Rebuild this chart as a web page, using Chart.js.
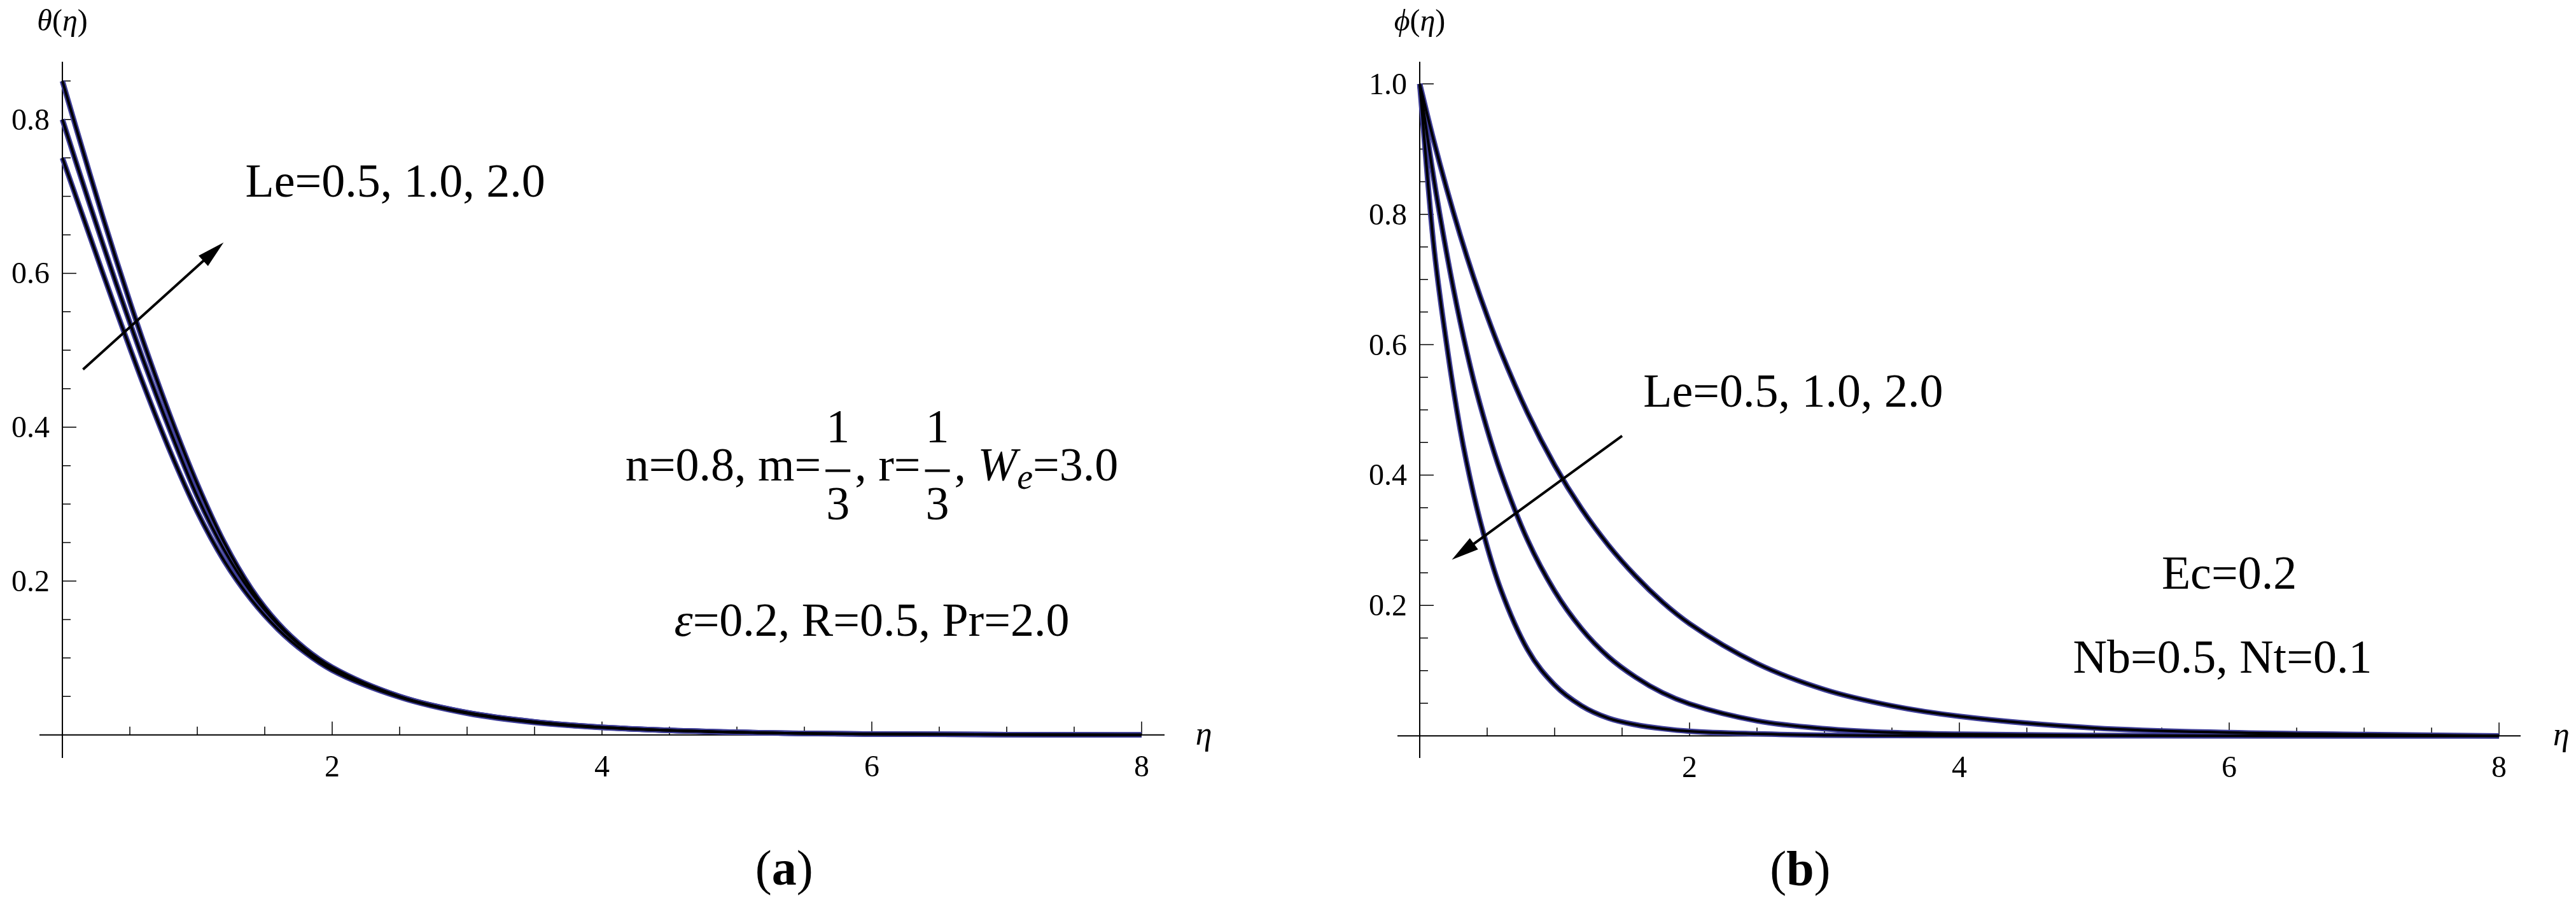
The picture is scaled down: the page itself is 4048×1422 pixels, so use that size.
<!DOCTYPE html>
<html>
<head>
<meta charset="utf-8">
<script src="https://cdn.jsdelivr.net/npm/chart.js@4.4.1/dist/chart.umd.min.js"></script>
<style>
  html, body { margin: 0; padding: 0; background: #fff; }
  #wrap { position: relative; width: 4048px; height: 1422px; }
  .panel { position: absolute; top: 0; width: 2024px; height: 1422px; }
</style>
</head>
<body>
<div id="wrap">
  <div class="panel" style="left:0"><canvas id="chartA" width="2024" height="1422"></canvas></div>
  <div class="panel" style="left:2024px"><canvas id="chartB" width="2024" height="1422"></canvas></div>
</div>
<script>
// eta grid shared by every curve
const eta = [0, 0.1, 0.2, 0.3, 0.4, 0.5, 0.6, 0.8, 1.0, 1.2, 1.4, 1.6, 1.8, 2.0, 2.5, 3.0, 3.5, 4.0, 5.0, 6.0, 7.0, 8.0];

// (a) theta(eta) for Le = 0.5, 1.0, 2.0
const thetaLe05 = [0.750, 0.700, 0.650, 0.600, 0.551, 0.503, 0.456, 0.368, 0.290, 0.226, 0.176, 0.137, 0.107, 0.084, 0.049, 0.028, 0.016, 0.0095, 0.0033, 0.0011, 0.0004, 0];
const thetaLe10 = [0.800, 0.745, 0.691, 0.638, 0.586, 0.536, 0.487, 0.395, 0.310, 0.240, 0.185, 0.143, 0.111, 0.087, 0.050, 0.029, 0.017, 0.010, 0.0035, 0.0012, 0.0004, 0];
const thetaLe20 = [0.850, 0.790, 0.731, 0.673, 0.617, 0.563, 0.511, 0.414, 0.326, 0.250, 0.190, 0.145, 0.112, 0.088, 0.050, 0.029, 0.017, 0.010, 0.0035, 0.0012, 0.0004, 0];

// (b) phi(eta) for Le = 0.5, 1.0, 2.0
const phiLe05 = [1, 0.916, 0.839, 0.768, 0.703, 0.644, 0.590, 0.495, 0.415, 0.348, 0.292, 0.245, 0.205, 0.172, 0.111, 0.071, 0.046, 0.030, 0.012, 0.005, 0.002, 0];
const phiLe10 = [1, 0.860, 0.740, 0.635, 0.545, 0.470, 0.405, 0.300, 0.222, 0.164, 0.121, 0.090, 0.066, 0.049, 0.023, 0.011, 0.005, 0.0025, 0.0006, 0.0001, 0, 0];
const phiLe20 = [1, 0.760, 0.600, 0.470, 0.370, 0.290, 0.225, 0.132, 0.078, 0.046, 0.027, 0.017, 0.011, 0.007, 0.003, 0.001, 0.0004, 0.0001, 0, 0, 0, 0];

// ticks
const xMajor = [2, 4, 6, 8];
const xMinor = [0.5, 1, 1.5, 2.5, 3, 3.5, 4.5, 5, 5.5, 6.5, 7, 7.5];
const thetaMajor = [0.2, 0.4, 0.6, 0.8];
const thetaMinor = [0.05, 0.1, 0.15, 0.25, 0.3, 0.35, 0.45, 0.5, 0.55, 0.65, 0.7, 0.75, 0.85];
const phiMajor = [0.2, 0.4, 0.6, 0.8, 1.0];
const phiMinor = [0.05, 0.1, 0.15, 0.25, 0.3, 0.35, 0.45, 0.5, 0.55, 0.65, 0.7, 0.75, 0.85, 0.9, 0.95];

const SERIF = '"Liberation Serif", "Times New Roman", Times, "DejaVu Serif", serif';
const fnt = (size, style) => (style ? style + ' ' : '') + size + 'px ' + SERIF;
const BLUE = '#3d3d96';

function lineSets(series) {
  const out = [];
  series.forEach(s => {
    const pts = eta.map((e, i) => ({ x: e, y: s[i] }));
    const common = { data: pts, pointRadius: 0, fill: false, cubicInterpolationMode: 'monotone', borderCapStyle: 'butt', borderJoinStyle: 'round' };
    out.push(Object.assign({}, common, { borderColor: BLUE, borderWidth: 8.5, order: 1 }));
    out.push(Object.assign({}, common, { borderColor: '#000', borderWidth: 4, order: 0 }));
  });
  return out;
}

// draw a row of text pieces (plain, italic, subscript, stacked fraction)
function runsWidth(ctx, runs) {
  let w = 0;
  runs.forEach(r => {
    ctx.font = r.font;
    if (r.frac) w += Math.max(ctx.measureText(r.frac[0]).width, ctx.measureText(r.frac[1]).width) + 2 * r.pad;
    else w += ctx.measureText(r.t).width;
  });
  return w;
}
function drawRuns(ctx, runs, x, y, align) {
  const w = runsWidth(ctx, runs);
  let cx = align === 'center' ? x - w / 2 : x;
  ctx.textAlign = 'left';
  ctx.textBaseline = 'alphabetic';
  ctx.fillStyle = '#000';
  runs.forEach(r => {
    ctx.font = r.font;
    if (r.frac) {
      const nw = ctx.measureText(r.frac[0]).width, dw = ctx.measureText(r.frac[1]).width;
      const inner = Math.max(nw, dw);
      ctx.fillText(r.frac[0], cx + r.pad + (inner - nw) / 2, y - 60);
      ctx.fillText(r.frac[1], cx + r.pad + (inner - dw) / 2, y + 61);
      ctx.fillRect(cx + r.pad - 1, y - 17, inner + 2, 4);
      cx += inner + 2 * r.pad;
    } else {
      ctx.fillText(r.t, cx, y + (r.dy || 0));
      cx += ctx.measureText(r.t).width;
    }
  });
}

function arrow(ctx, x1, y1, x2, y2) {
  const ang = Math.atan2(y2 - y1, x2 - x1);
  const hl = 43, hw = 11;
  const bx = x2 - hl * Math.cos(ang), by = y2 - hl * Math.sin(ang);
  ctx.strokeStyle = '#000';
  ctx.lineWidth = 4;
  ctx.beginPath(); ctx.moveTo(x1, y1); ctx.lineTo(bx + 4 * Math.cos(ang), by + 4 * Math.sin(ang)); ctx.stroke();
  ctx.fillStyle = '#000';
  ctx.beginPath();
  ctx.moveTo(x2, y2);
  ctx.lineTo(bx + hw * Math.sin(ang), by - hw * Math.cos(ang));
  ctx.lineTo(bx - hw * Math.sin(ang), by + hw * Math.cos(ang));
  ctx.closePath(); ctx.fill();
}

function axesPlugin(cfg) {
  return {
    id: 'mathAxes',
    beforeDatasetsDraw(chart) {
      const ctx = chart.ctx, xs = chart.scales.x, ys = chart.scales.y;
      const x0 = xs.getPixelForValue(0), y0 = ys.getPixelForValue(0);
      ctx.save();
      ctx.strokeStyle = '#000';
      ctx.lineWidth = 2;
      ctx.beginPath();
      ctx.moveTo(xs.left, y0); ctx.lineTo(xs.right, y0);
      ctx.moveTo(x0, ys.top); ctx.lineTo(x0, ys.bottom);
      ctx.stroke();
      ctx.lineWidth = 1.5;
      ctx.beginPath();
      xMajor.forEach(v => { const p = xs.getPixelForValue(v); ctx.moveTo(p, y0); ctx.lineTo(p, y0 - 21); });
      xMinor.forEach(v => { const p = xs.getPixelForValue(v); ctx.moveTo(p, y0); ctx.lineTo(p, y0 - 13); });
      cfg.yMajor.forEach(v => { const p = ys.getPixelForValue(v); ctx.moveTo(x0, p); ctx.lineTo(x0 + 22, p); });
      cfg.yMinor.forEach(v => { const p = ys.getPixelForValue(v); ctx.moveTo(x0, p); ctx.lineTo(x0 + 13, p); });
      ctx.stroke();

      ctx.fillStyle = '#000';
      ctx.font = fnt(48);
      ctx.textBaseline = 'alphabetic';
      ctx.textAlign = 'center';
      xMajor.forEach(v => ctx.fillText(String(v), xs.getPixelForValue(v), y0 + 65));
      ctx.textAlign = 'right';
      cfg.yMajor.forEach(v => ctx.fillText(v.toFixed(1), x0 - 20, ys.getPixelForValue(v) + 16));

      // axis labels
      drawRuns(ctx, [
        { t: cfg.yName, font: fnt(48, 'italic') },
        { t: '(', font: fnt(48) },
        { t: '\u03B7', font: fnt(48, 'italic') },
        { t: ')', font: fnt(48) }
      ], x0, 48, 'center');
      drawRuns(ctx, [{ t: '\u03B7', font: fnt(52, 'italic') }], xs.getPixelForValue(8.4), y0 + 15, 'left');
      ctx.restore();
    },
    afterDraw(chart) {
      const ctx = chart.ctx, xs = chart.scales.x, ys = chart.scales.y;
      const px = v => xs.getPixelForValue(v), py = v => ys.getPixelForValue(v);
      ctx.save();
      cfg.texts.forEach(t => drawRuns(ctx, t.runs, px(t.x), py(t.y), t.align));
      const a = cfg.arrow;
      arrow(ctx, px(a[0]), py(a[1]), px(a[2]), py(a[3]));
      ctx.restore();
    }
  };
}

const T = fnt(74), TI = fnt(74, 'italic');

function makeChart(id, series, xr, yr, pad, cfg) {
  return new Chart(document.getElementById(id), {
    type: 'line',
    data: { datasets: lineSets(series) },
    options: {
      responsive: false,
      animation: false,
      devicePixelRatio: 1,
      layout: { padding: pad },
      plugins: { legend: { display: false }, tooltip: { enabled: false } },
      scales: {
        x: { type: 'linear', min: xr[0], max: xr[1], display: false },
        y: { type: 'linear', min: yr[0], max: yr[1], display: false }
      }
    },
    plugins: [axesPlugin(cfg)]
  });
}

makeChart('chartA', [thetaLe05, thetaLe10, thetaLe20], [-0.17, 8.17], [-0.03, 0.875],
  { left: 62, right: 194, top: 97, bottom: 231 },
  {
    yName: '\u03B8', yMajor: thetaMajor, yMinor: thetaMinor,
    arrow: [0.153, 0.475, 1.195, 0.640],
    texts: [
      { x: 1.356, y: 0.700, align: 'left', runs: [{ t: 'Le=0.5, 1.0, 2.0', font: T }] },
      { x: 6.0, y: 0.331, align: 'center', runs: [
        { t: 'n=0.8, m=', font: T },
        { frac: ['1', '3'], font: T, pad: 8 },
        { t: ', r=', font: T },
        { frac: ['1', '3'], font: T, pad: 8 },
        { t: ', ', font: T },
        { t: 'W', font: TI },
        { t: 'e', font: fnt(56, 'italic'), dy: 13 },
        { t: '=3.0', font: T }
      ] },
      { x: 6.0, y: 0.129, align: 'center', runs: [
        { t: '\u03B5', font: TI },
        { t: '=0.2, R=0.5, Pr=2.0', font: T }
      ] },
      { x: 5.35, y: -0.195, align: 'center', runs: [
        { t: '(', font: fnt(78) }, { t: 'a', font: fnt(78, 'bold') }, { t: ')', font: fnt(78) }
      ] }
    ]
  });

makeChart('chartB', [phiLe05, phiLe10, phiLe20], [-0.165, 8.16], [-0.034, 1.034],
  { left: 172, right: 87, top: 97, bottom: 231 },
  {
    yName: '\u03D5', yMajor: phiMajor, yMinor: phiMinor,
    arrow: [1.50, 0.46, 0.238, 0.270],
    texts: [
      { x: 1.657, y: 0.505, align: 'left', runs: [{ t: 'Le=0.5, 1.0, 2.0', font: T }] },
      { x: 6.0, y: 0.2255, align: 'center', runs: [{ t: 'Ec=0.2', font: T }] },
      { x: 5.95, y: 0.0966, align: 'center', runs: [{ t: 'Nb=0.5, Nt=0.1', font: T }] },
      { x: 2.82, y: -0.229, align: 'center', runs: [
        { t: '(', font: fnt(78) }, { t: 'b', font: fnt(78, 'bold') }, { t: ')', font: fnt(78) }
      ] }
    ]
  });
</script>
</body>
</html>
